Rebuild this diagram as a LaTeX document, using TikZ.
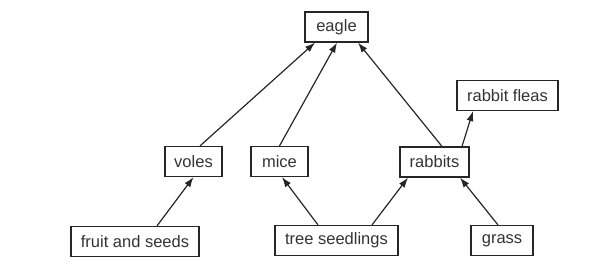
\documentclass[tikz,border=0pt]{standalone}
\usepackage{fontspec}
\setmainfont{Liberation Sans}
\usetikzlibrary{arrows.meta}
\begin{document}
\begin{tikzpicture}[x=1pt,y=-1pt,
  box/.style={draw=black!85,line width=1.2pt,inner sep=0pt,minimum height=30pt,text=black!80,font=\fontsize{16.5}{18}\selectfont,anchor=center},
  arr/.style={draw=black!85,line width=1.2pt,-{Latex[length=10pt,width=7pt]}}]
\useasboundingbox (0,0) rectangle (605,276);
\node[box,minimum width=63pt] (eagle) at (336.5,27) {eagle};
\node[box,minimum width=57pt] (voles) at (193.5,161.5) {voles};
\node[box,minimum width=57pt] (mice) at (279.5,161.5) {mice};
\node[box,minimum width=69pt] (rabbits) at (434.5,162) {rabbits};
\node[box,minimum width=101pt] (fleas) at (507.5,95.5) {rabbit fleas};
\node[box,minimum width=128pt] (fruit) at (135,241.5) {fruit and seeds};
\node[box,minimum width=123pt] (tree) at (336.5,240.5) {tree seedlings};
\node[box,minimum width=62pt] (grass) at (502,240.5) {grass};
\draw[arr] ([xshift=6.5pt]voles.north) -- ([xshift=-21.5pt]eagle.south);
\draw[arr] (mice.north) -- ([xshift=0.5pt]eagle.south);
\draw[arr] ([xshift=7.5pt]rabbits.north) -- ([xshift=21.5pt]eagle.south);
\draw[arr] ([xshift=27.5pt]rabbits.north) -- ([xshift=-34.5pt]fleas.south);
\draw[arr] ([xshift=22pt]fruit.north) -- (voles.south);
\draw[arr] ([xshift=-18.5pt]tree.north) -- ([xshift=2.5pt]mice.south);
\draw[arr] ([xshift=35.5pt]tree.north) -- ([xshift=-26.5pt]rabbits.south);
\draw[arr] ([xshift=-4pt]grass.north) -- ([xshift=25.5pt]rabbits.south);
\end{tikzpicture}
\end{document}
